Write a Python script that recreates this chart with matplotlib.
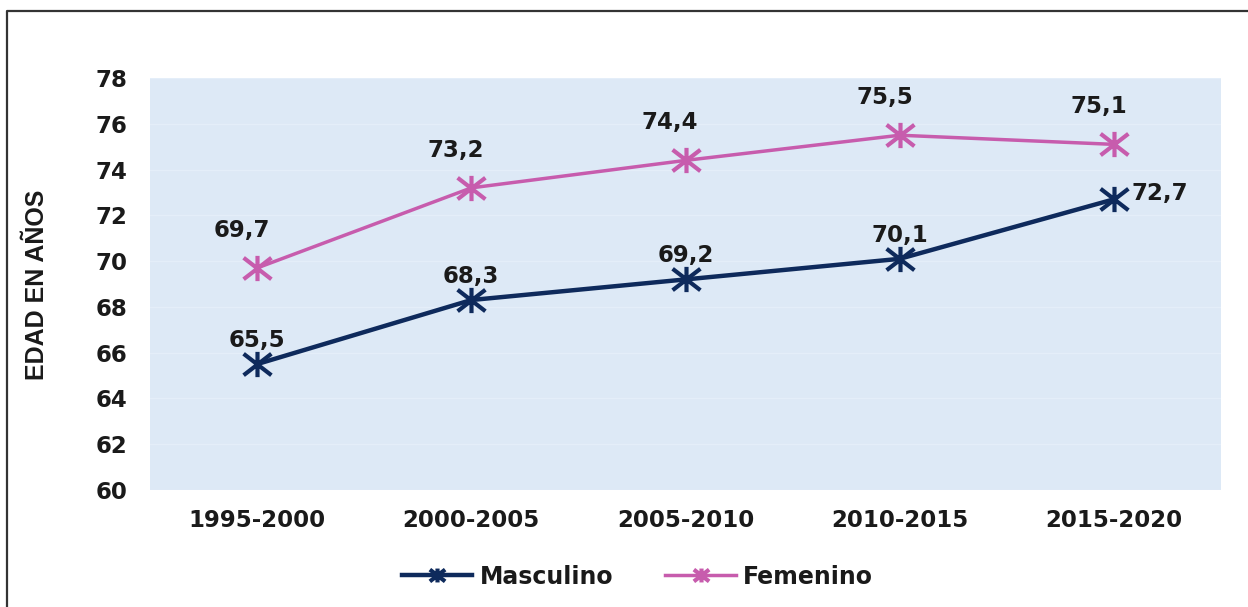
import matplotlib.pyplot as plt
import numpy as np
from matplotlib.font_manager import FontProperties
from matplotlib.lines import Line2D
from matplotlib.path import Path

# Esperanza de vida al nacer por quinquenio
periodos = ["1995-2000", "2000-2005", "2005-2010", "2010-2015", "2015-2020"]
masculino = [65.5, 68.3, 69.2, 70.1, 72.7]
femenino = [69.7, 73.2, 74.4, 75.5, 75.1]
y_ticks = [60, 62, 64, 66, 68, 70, 72, 74, 76, 78]

azul = "#0e2a5c"
rosa = "#c75cad"
fondo = "#dde9f6"
txt = "#1a1a1a"

plt.rcParams['font.family'] = ['DejaVu Sans']
plt.rcParams['font.weight'] = 'bold'

# marcador tipo asterisco: una X con trazo vertical
estrella = Path(
    [(0, -1), (0, 1), (-1.1, -0.85), (1.1, 0.85), (-1.1, 0.85), (1.1, -0.85)],
    [Path.MOVETO, Path.LINETO, Path.MOVETO, Path.LINETO, Path.MOVETO, Path.LINETO])

fig = plt.figure(figsize=(12.48, 6.07), dpi=100, facecolor='white')
ax = fig.add_axes([150 / 1248, 1 - 490 / 607, 1071 / 1248, 412 / 607])
ax.set_facecolor(fondo)

x = np.arange(len(periodos))
ax.plot(x, masculino, color=azul, lw=3.2, marker=estrella, ms=20,
        mec=azul, mew=3.0, label="Masculino", zorder=3)
ax.plot(x, femenino, color=rosa, lw=2.5, marker=estrella, ms=20,
        mec=rosa, mew=3.0, label="Femenino", zorder=3)

def fmt(v):
    return f"{v:.1f}".replace(".", ",")

for i, v in enumerate(femenino):
    ax.annotate(fmt(v), (x[i], v), xytext=(-11, 27), textcoords='offset points',
                ha='center', va='center', fontsize=16.5, fontweight='bold', color=txt)
for i, v in enumerate(masculino):
    if i == len(masculino) - 1:
        ax.annotate(fmt(v), (x[i], v), xytext=(13, 4), textcoords='offset points',
                    ha='left', va='center', fontsize=16.5, fontweight='bold', color=txt)
    else:
        ax.annotate(fmt(v), (x[i], v), xytext=(0, 17), textcoords='offset points',
                    ha='center', va='center', fontsize=16.5, fontweight='bold', color=txt)

ax.set_xlim(-0.5, len(periodos) - 0.5)
ax.set_ylim(60, 78)
ax.set_yticks(y_ticks)
ax.set_xticks(x)
ax.set_xticklabels(periodos)
ax.tick_params(axis='both', length=0, labelsize=16.5, colors=txt)
ax.tick_params(axis='y', pad=16)
ax.tick_params(axis='x', pad=14)
for lbl in ax.get_xticklabels() + ax.get_yticklabels():
    lbl.set_fontweight('bold')
ax.grid(axis='y', color='#e4eef9', lw=1)
ax.set_axisbelow(True)
for s in ax.spines.values():
    s.set_visible(False)

ax.set_ylabel("EDAD EN AÑOS", color=txt,
              fontproperties=FontProperties(family=['Liberation Sans', 'DejaVu Sans'],
                                            weight='bold', size=18))
ax.yaxis.set_label_coords(-0.094, 0.4976)

leg = ax.legend(loc='center', bbox_to_anchor=(0.455, -0.21), ncol=2, frameon=False,
                prop={'size': 17, 'weight': 'bold'}, markerscale=0.55,
                handlelength=3.0, columnspacing=2.2, handletextpad=0.3)
for t in leg.get_texts():
    t.set_color(txt)

# marco exterior
fig.add_artist(Line2D([7 / 1248, 7 / 1248, 1.0], [0, 1 - 11 / 607, 1 - 11 / 607],
                      transform=fig.transFigure, color='#333333', lw=1.6))

fig.savefig("out.png", dpi=100, facecolor='white')
